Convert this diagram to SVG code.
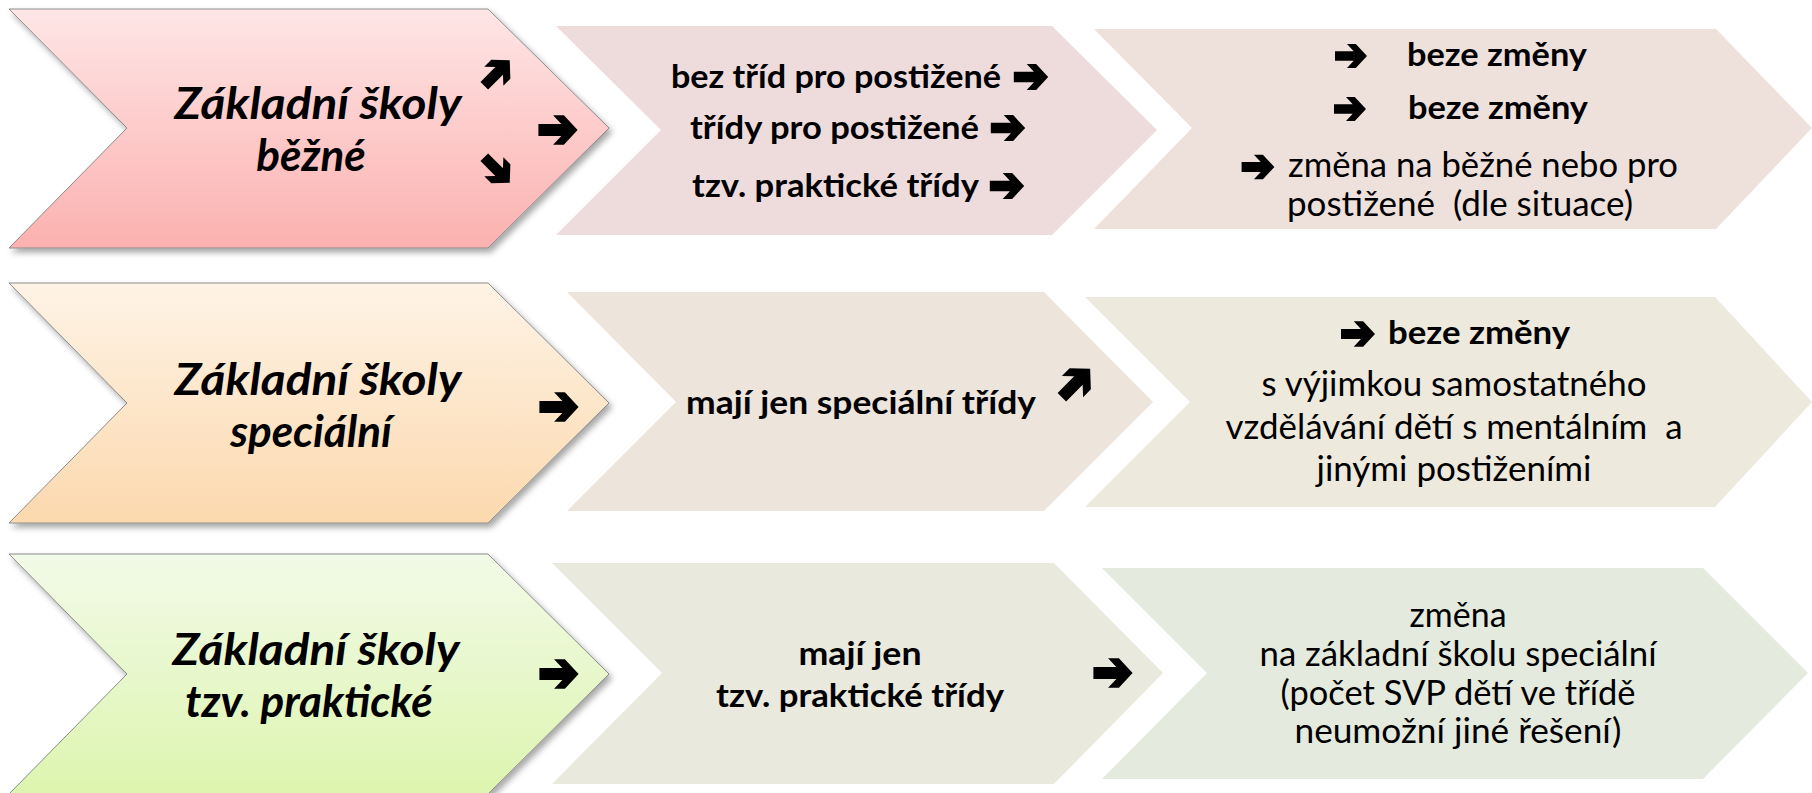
<svg xmlns="http://www.w3.org/2000/svg" width="1812" height="793" viewBox="0 0 1812 793">
<style>
.t{font-family:Lato,"Liberation Sans",sans-serif;fill:#000}
.h{font-weight:700;font-style:italic;font-size:44px;text-anchor:middle}
.b{font-weight:700;font-size:32.5px}
.r{font-weight:400;font-size:34px}
.m{text-anchor:middle}
.e{text-anchor:end}
.s{text-anchor:start}
.a1{stroke:#8c8c8c;stroke-width:1}
</style>
<defs>
<linearGradient id="gA1" x1="0" y1="0" x2="0" y2="1"><stop offset="0" stop-color="#FEE6E6"/><stop offset="1" stop-color="#FBB1AF"/></linearGradient>
<linearGradient id="gA2" x1="0" y1="0" x2="0" y2="1"><stop offset="0" stop-color="#FEF3E6"/><stop offset="1" stop-color="#FCD9AE"/></linearGradient>
<linearGradient id="gA3" x1="0" y1="0" x2="0" y2="1"><stop offset="0" stop-color="#F2FAE8"/><stop offset="1" stop-color="#DDF5AF"/></linearGradient>
<filter id="sh" x="-5%" y="-5%" width="115%" height="120%"><feDropShadow dx="3" dy="4" stdDeviation="3" flood-color="#000" flood-opacity="0.35"/></filter>
<path id="arr" d="M-20,-6 H3.4 L-5,-15 H6 L20,0 L6,15 H-5 L3.4,6 H-20 Z" fill="#000"/>
</defs>
<rect width="1812" height="793" fill="#fff"/>

<g id="node-a1">
<path class="a1" d="M9,9 H488 L609,128 L488,248 H9 L127,128 Z" fill="url(#gA1)" filter="url(#sh)"/>
<text class="t h" x="318" y="119" textLength="287" lengthAdjust="spacingAndGlyphs">Základní školy</text>
<text class="t h" x="311" y="171">běžné</text>
</g>
<g id="node-b1">
<path d="M556,26 H1052 L1157,130 L1052,235 H556 L661,130 Z" fill="#EEDCDC"/>
<text class="t b e" x="1001" y="88" textLength="330" lengthAdjust="spacingAndGlyphs">bez tříd pro postižené</text>
<use href="#arr" transform="translate(1031,77) scale(0.86)"/>
<text class="t b e" x="979" y="139" textLength="289" lengthAdjust="spacingAndGlyphs">třídy pro postižené</text>
<use href="#arr" transform="translate(1008,128) scale(0.86)"/>
<text class="t b e" x="979" y="197" textLength="287" lengthAdjust="spacingAndGlyphs">tzv. praktické třídy</text>
<use href="#arr" transform="translate(1007,186) scale(0.86)"/>
</g>
<g id="node-c1">
<path d="M1094,29 H1716 L1812,128 L1716,229 H1094 L1192,128 Z" fill="#EEE1DC"/>
<use href="#arr" transform="translate(1351,56) scale(0.8)"/>
<text class="t b s" x="1407" y="66" textLength="180" lengthAdjust="spacingAndGlyphs">beze změny</text>
<use href="#arr" transform="translate(1350,109) scale(0.8)"/>
<text class="t b s" x="1408" y="119" textLength="180" lengthAdjust="spacingAndGlyphs">beze změny</text>
<use href="#arr" transform="translate(1258,167) scale(0.82)"/>
<text class="t r s" x="1288" y="177" textLength="390" lengthAdjust="spacingAndGlyphs">změna na běžné nebo pro</text>
<text class="t r s" x="1287" y="216" textLength="346" lengthAdjust="spacingAndGlyphs" xml:space="preserve">postižené  (dle situace)</text>
</g>

<g id="node-a2">
<path class="a1" d="M9,283 H488 L609,403 L488,523 H9 L127,403 Z" fill="url(#gA2)" filter="url(#sh)"/>
<text class="t h" x="318" y="395" textLength="287" lengthAdjust="spacingAndGlyphs">Základní školy</text>
<text class="t h" x="311" y="447">speciální</text>
</g>
<g id="node-b2">
<path d="M567,292 H1044 L1153,402 L1044,511 H567 L676,402 Z" fill="#EDE4DC"/>
<text class="t b s" x="686" y="414" textLength="350" lengthAdjust="spacingAndGlyphs">mají jen speciální třídy</text>
</g>
<g id="node-c2">
<path d="M1085,297 H1715 L1812,402 L1715,507 H1085 L1190,402 Z" fill="#EDE9DD"/>
<use href="#arr" transform="translate(1358,334) scale(0.85)"/>
<text class="t b s" x="1388" y="344" textLength="182" lengthAdjust="spacingAndGlyphs">beze změny</text>
<text class="t r m" x="1454" y="396" textLength="385" lengthAdjust="spacingAndGlyphs">s výjimkou samostatného</text>
<text class="t r m" x="1454" y="439" textLength="457" lengthAdjust="spacingAndGlyphs" xml:space="preserve">vzdělávání dětí s mentálním  a</text>
<text class="t r m" x="1454" y="481" textLength="275" lengthAdjust="spacingAndGlyphs">jinými postiženími</text>
</g>

<g id="node-a3">
<path class="a1" d="M9,554 H488 L609,674 L488,794 H9 L127,674 Z" fill="url(#gA3)" filter="url(#sh)"/>
<text class="t h" x="316" y="665" textLength="287" lengthAdjust="spacingAndGlyphs">Základní školy</text>
<text class="t h" x="309" y="717">tzv. praktické</text>
</g>
<g id="node-b3">
<path d="M552,563 H1054 L1163,673 L1054,784 H552 L662,673 Z" fill="#E9E9DD"/>
<text class="t b m" x="860" y="665" textLength="123" lengthAdjust="spacingAndGlyphs">mají jen</text>
<text class="t b m" x="860" y="707" textLength="288" lengthAdjust="spacingAndGlyphs">tzv. praktické třídy</text>
</g>
<g id="node-c3">
<path d="M1102,568 H1703 L1808,673 L1703,779 H1102 L1207,673 Z" fill="#E4EADD"/>
<text class="t r m" x="1458" y="627" textLength="97" lengthAdjust="spacingAndGlyphs">změna</text>
<text class="t r m" x="1458" y="666" textLength="397" lengthAdjust="spacingAndGlyphs">na základní školu speciální</text>
<text class="t r m" x="1458" y="705" textLength="355" lengthAdjust="spacingAndGlyphs">(počet SVP dětí ve třídě</text>
<text class="t r m" x="1458" y="743" textLength="327" lengthAdjust="spacingAndGlyphs">neumožní jiné řešení)</text>
</g>

<g id="connectors">
<use href="#arr" transform="translate(497,73) rotate(-45) scale(0.9)"/>
<use href="#arr" transform="translate(558,130) scale(0.98)"/>
<use href="#arr" transform="translate(497,170) rotate(45) scale(0.9)"/>
<use href="#arr" transform="translate(559,407) scale(0.98)"/>
<use href="#arr" transform="translate(1076,383) rotate(-45) scale(1.0)"/>
<use href="#arr" transform="translate(559,674) scale(0.98)"/>
<use href="#arr" transform="translate(1113,673) scale(0.98)"/>
</g>
</svg>
